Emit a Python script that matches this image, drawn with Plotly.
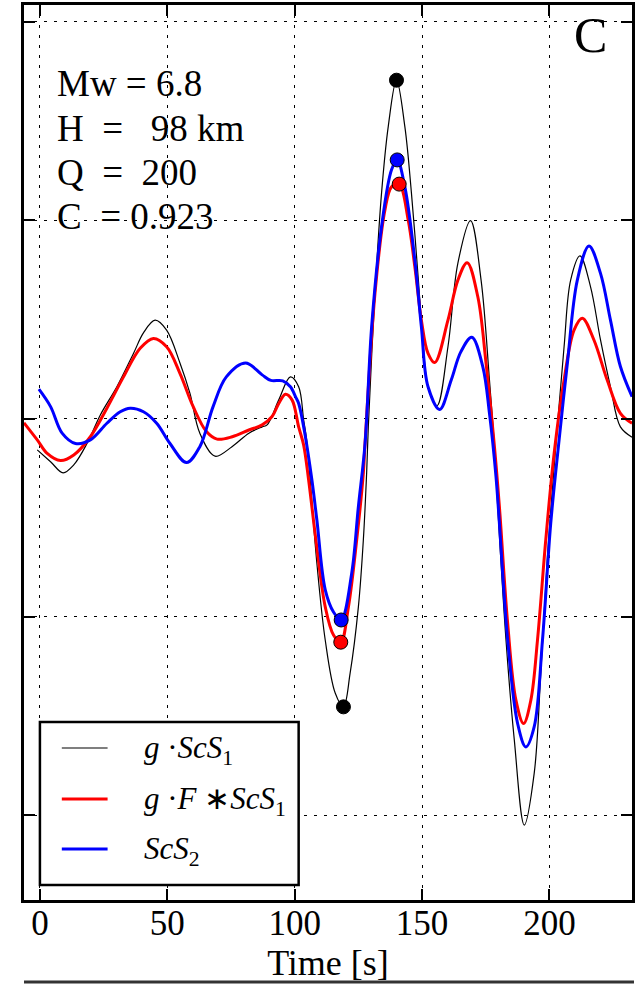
import plotly.graph_objects as go

# ---- data -------------------------------------------------------------
# g . ScS1  (black)
t_g = [-1.05, 4.18, 9.10, 13.28, 18.48, 23.71, 30.20, 36.72, 40.63, 45.20, 49.73,
       54.96, 58.87, 62.77, 68.75, 75.39, 82.03, 87.23, 89.18, 93.75, 98.32,
       101.56, 103.52, 104.69, 108.71, 112.0, 115.9, 119.14, 121.76, 125.0,
       126.95, 128.24, 128.9, 131.52, 134.10, 136.72, 139.96, 143.24, 145.82,
       148.44, 150.39, 152.34, 155.86, 160.16, 164.06, 169.02, 173.16, 176.45,
       178.40, 179.69, 182.93, 186.21, 190.12, 194.02, 196.6, 199.22, 201.84,
       205.74, 208.32, 211.99, 216.13, 220.04, 223.95, 227.85, 232.42]
a_g = [-0.079, -0.109, -0.137, -0.117, -0.063, 0.009, 0.080, 0.164, 0.216, 0.248, 0.223,
       0.140, 0.064, -0.037, -0.095, -0.071, -0.037, -0.021, -0.016, 0.047, 0.105,
       0.080, -0.004, -0.054, -0.365, -0.559, -0.692, -0.727, -0.642, -0.475,
       -0.306, -0.137, -0.021, 0.316, 0.569, 0.736, 0.853, 0.736, 0.569,
       0.358, 0.190, 0.080, 0.032, 0.181, 0.392, 0.499, 0.349, 0.097,
       -0.071, -0.222, -0.558, -0.811, -1.025, -0.894, -0.642, -0.348, -0.122,
       0.181, 0.349, 0.410, 0.332, 0.198, 0.080, -0.021, -0.047]

# g . F * ScS1  (red)
t_gf = [-6.25, -1.05, 2.85, 8.09, 13.28, 19.8, 26.29, 32.81, 39.34, 44.53, 49.73,
        54.96, 60.16, 65.35, 69.53, 75.51, 82.03, 87.23, 91.13, 93.75, 96.37,
        98.95, 101.56, 103.52, 105.47, 108.32, 112.0, 115.23, 118.09, 121.09,
        124.34, 126.95, 127.62, 131.52, 135.43, 138.01, 141.02, 144.53, 147.15,
        149.73, 152.34, 154.96, 160.16, 164.06, 167.7, 171.88, 175.12, 178.40,
        180.35, 183.59, 186.84, 189.84, 192.70, 195.31, 198.55, 201.84, 205.74,
        209.65, 212.89, 217.46, 222.66, 227.85, 232.42]
a_gf = [-0.011, -0.054, -0.088, -0.106, -0.092, -0.046, 0.026, 0.105, 0.177, 0.202, 0.181,
        0.114, 0.030, -0.033, -0.052, -0.046, -0.029, -0.016, 0.005, 0.038, 0.061,
        0.047, -0.021, -0.067, -0.155, -0.306, -0.475, -0.546, -0.564, -0.475,
        -0.306, -0.137, -0.062, 0.316, 0.526, 0.584, 0.591, 0.501, 0.383,
        0.248, 0.164, 0.141, 0.248, 0.349, 0.393, 0.307, 0.139, -0.071,
        -0.222, -0.516, -0.710, -0.769, -0.710, -0.558, -0.306, -0.088, 0.097,
        0.223, 0.253, 0.198, 0.097, 0.013, -0.012]

# ScS2  (blue)
t_s2 = [-0.4, 4.18, 8.71, 13.95, 19.8, 26.29, 31.52, 35.43, 40.63, 45.82, 51.05,
        57.54, 62.77, 67.97, 73.16, 80.74, 87.23, 90.63, 95.31, 98.32, 100.39,
        101.56, 104.1, 106.76, 108.71, 112.0, 115.23, 118.24, 122.38, 125.0,
        127.62, 130.2, 134.1, 138.01, 140.23, 143.24, 147.15, 149.73, 152.34,
        156.91, 161.45, 165.2, 169.53, 173.83, 176.45, 179.02, 183.59, 187.5,
        190.74, 194.02, 197.27, 200.51, 203.79, 207.03, 210.94, 215.51, 220.04,
        223.95, 227.85, 232.42]
a_s2 = [0.074, 0.030, -0.037, -0.063, -0.054, -0.012, 0.017, 0.026, 0.017, -0.012, -0.063,
        -0.111, -0.071, 0.030, 0.105, 0.140, 0.110, 0.096, 0.095, 0.080, 0.054,
        0.038, -0.042, -0.155, -0.256, -0.432, -0.488, -0.508, -0.390, -0.222,
        -0.063, 0.231, 0.484, 0.627, 0.652, 0.584, 0.400, 0.231, 0.080,
        0.023, 0.097, 0.168, 0.205, 0.131, 0.013, -0.147, -0.558, -0.769,
        -0.828, -0.777, -0.558, -0.264, -0.054, 0.139, 0.349, 0.435, 0.366,
        0.248, 0.131, 0.055]

# picked extrema (trough, peak) of each trace
pick_t_g, pick_a_g = [119.14, 139.96], [-0.727, 0.853]
pick_t_gf, pick_a_gf = [118.09, 141.02], [-0.564, 0.591]
pick_t_s2, pick_a_s2 = [118.24, 140.23], [-0.508, 0.652]

x_ticks = [0, 50, 100, 150, 200]
x_tick_labels = ["0", "50", "100", "150", "200"]
y_ticks = [-1.0, -0.5, 0.0, 0.5, 1.0]

info_lines = ["Mw = 6.8",
              "H\u00a0\u00a0=\u00a0\u00a0\u00a098 km",
              "Q\u00a0\u00a0=\u00a0\u00a0200",
              "C\u00a0\u00a0= 0.923"]
panel_label = "C"
legend_labels = ["<i>g</i> \u00b7<i>ScS</i><sub>1</sub>",
                 "<i>g</i> \u00b7<i>F</i> \u2217<i>ScS</i><sub>1</sub>",
                 "<i>ScS</i><sub>2</sub>"]

# ---- layout geometry (pixels) ----------------------------------------
W, H = 637, 984
L, R, T, B = 24, 635, 5, 900
SERIF = "Liberation Serif"


def fx(x):
    return (x - L) / (R - L)


def fy(y):
    return 1 - (y - T) / (B - T)


fig = go.Figure()

series = [
    (t_g, a_g, pick_t_g, pick_a_g, "black", 1.2),
    (t_gf, a_gf, pick_t_gf, pick_a_gf, "red", 3),
    (t_s2, a_s2, pick_t_s2, pick_a_s2, "blue", 3),
]
for t, a, pt, pa, col, lw in series:
    fig.add_trace(go.Scatter(x=t, y=a, mode="lines",
                             line=dict(color=col, width=lw, shape="spline", smoothing=1.0),
                             showlegend=False, hoverinfo="skip"))
for t, a, pt, pa, col, lw in series:
    fig.add_trace(go.Scatter(x=pt, y=pa, mode="markers",
                             marker=dict(color=col, size=14, line=dict(color="black", width=1)),
                             showlegend=False, hoverinfo="skip"))

axis_common = dict(
    showline=True, linecolor="black", linewidth=2.5, mirror="allticks",
    ticks="inside", ticklen=11, tickwidth=1.5, tickcolor="black",
    showgrid=True, gridcolor="black", gridwidth=1, griddash="3px,7px",
    zeroline=False,
)

fig.update_xaxes(range=[-6.25, 232.4], tickvals=x_ticks, ticktext=x_tick_labels,
                 tickfont=dict(family=SERIF, size=35, color="black"),
                 ticklabelstandoff=-10,
                 title=dict(text="Time [s]", font=dict(family=SERIF, size=36, color="black"),
                            standoff=0),
                 **axis_common)
fig.update_yaxes(range=[-1.214, 1.0426], tickvals=y_ticks, showticklabels=False,
                 **axis_common)

annotations = []
for i, line in enumerate(info_lines):
    annotations.append(dict(x=fx(55), y=fy(84 + 44.3 * i), xref="paper", yref="paper",
                            text=line, showarrow=False, xanchor="left", yanchor="middle",
                            font=dict(family=SERIF, size=37, color="black")))
annotations.append(dict(x=fx(593), y=fy(35), xref="paper", yref="paper",
                        text=panel_label, showarrow=False, xanchor="center", yanchor="middle",
                        font=dict(family=SERIF, size=50, color="black")))

shapes = [dict(type="rect", xref="paper", yref="paper", x0=fx(40), x1=fx(300),
               y0=fy(885), y1=fy(722), line=dict(color="black", width=2.5),
               fillcolor="white", layer="above")]
rows = [748, 799, 849]
for (t, a, pt, pa, col, lw), row, lab in zip(series, rows, legend_labels):
    shapes.append(dict(type="line", xref="paper", yref="paper", x0=fx(62), x1=fx(108),
                       y0=fy(row), y1=fy(row), line=dict(color=col, width=lw), layer="above"))
    annotations.append(dict(x=fx(143), y=fy(row + 2), xref="paper", yref="paper",
                            text=lab, showarrow=False, xanchor="left", yanchor="middle",
                            font=dict(family=SERIF, size=31, color="black")))

# top edge of the panel below
shapes.append(dict(type="line", xref="paper", yref="paper", x0=fx(24), x1=fx(637),
                   y0=fy(982), y1=fy(982), line=dict(color="#333333", width=3)))

fig.update_layout(width=W, height=H, margin=dict(l=L, r=W - R, t=T, b=H - B),
                  paper_bgcolor="white", plot_bgcolor="white",
                  annotations=annotations, shapes=shapes)

fig.write_html("out.html")
